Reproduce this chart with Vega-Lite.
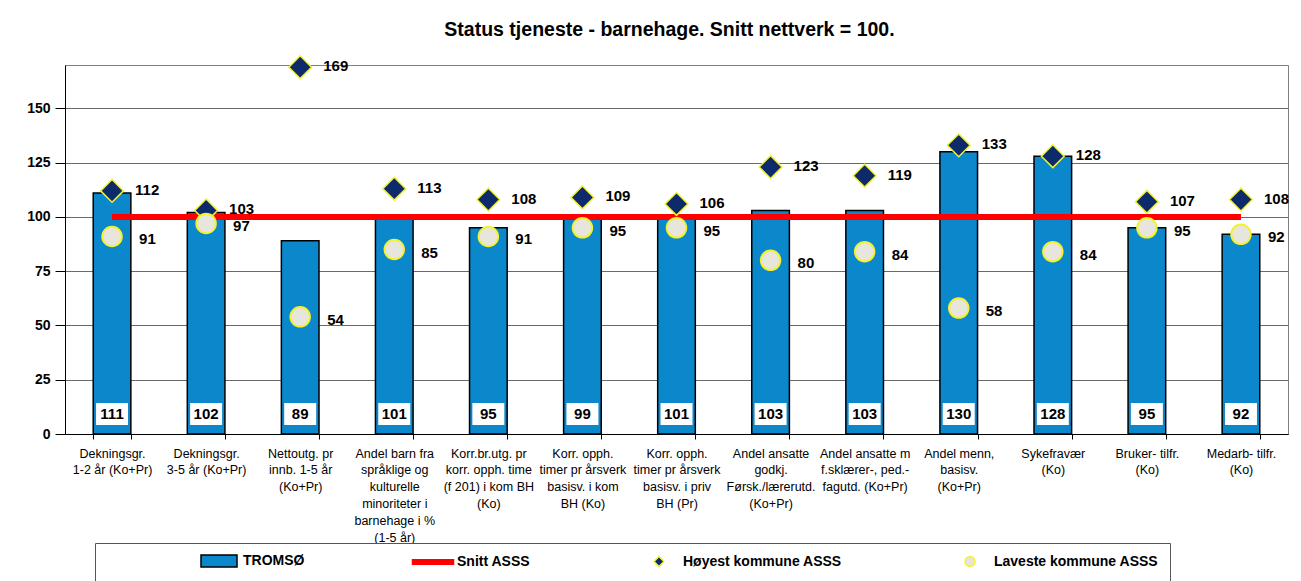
{
  "$schema": "https://vega.github.io/schema/vega-lite/v6.json",
  "width": 1223,
  "height": 369,
  "autosize": "none",
  "padding": {"left": 65, "top": 65, "right": 13, "bottom": 147},
  "background": "white",
  "title": {"text": "Status tjeneste - barnehage. Snitt nettverk = 100.", "anchor": "middle", "offset": 12, "fontSize": 19.5, "fontWeight": "bold", "font": "Liberation Sans", "color": "#000000", "dx": -7},
  "config": {
    "view": {"stroke": "#808080", "strokeWidth": 1},
    "font": "Liberation Sans"
  },
  "data": {"values": [
    {"cat": "Dekningsgr.|1-2 år (Ko+Pr)", "tromso": 111, "hoy": 112, "lav": 91, "snitt": 100},
    {"cat": "Dekningsgr.|3-5 år (Ko+Pr)", "tromso": 102, "hoy": 103, "lav": 97, "snitt": 100},
    {"cat": "Nettoutg. pr|innb. 1-5 år|(Ko+Pr)", "tromso": 89, "hoy": 169, "lav": 54, "snitt": 100},
    {"cat": "Andel barn fra|språklige og|kulturelle|minoriteter i|barnehage i %|(1-5 år)", "tromso": 101, "hoy": 113, "lav": 85, "snitt": 100},
    {"cat": "Korr.br.utg. pr|korr. opph. time|(f 201) i kom BH|(Ko)", "tromso": 95, "hoy": 108, "lav": 91, "snitt": 100},
    {"cat": "Korr. opph.|timer pr årsverk|basisv. i kom|BH (Ko)", "tromso": 99, "hoy": 109, "lav": 95, "snitt": 100},
    {"cat": "Korr. opph. |timer pr årsverk |basisv. i priv|BH (Pr)", "tromso": 101, "hoy": 106, "lav": 95, "snitt": 100},
    {"cat": "Andel ansatte|godkj.|Førsk./lærerutd.|(Ko+Pr)", "tromso": 103, "hoy": 123, "lav": 80, "snitt": 100},
    {"cat": "Andel ansatte m|f.sklærer-, ped.-|fagutd. (Ko+Pr)", "tromso": 103, "hoy": 119, "lav": 84, "snitt": 100},
    {"cat": "Andel menn,|basisv.|(Ko+Pr)", "tromso": 130, "hoy": 133, "lav": 58, "snitt": 100},
    {"cat": "Sykefravær|(Ko)", "tromso": 128, "hoy": 128, "lav": 84, "snitt": 100},
    {"cat": "Bruker- tilfr.|(Ko)", "tromso": 95, "hoy": 107, "lav": 95, "snitt": 100},
    {"cat": "Medarb- tilfr.|(Ko)", "tromso": 92, "hoy": 108, "lav": 92, "snitt": 100}
  ]},
  "encoding": {
    "x": {
      "field": "cat", "type": "nominal", "sort": null,
      "scale": {"paddingInner": 0.6, "paddingOuter": 0.3},
      "axis": {
        "title": null, "labelAngle": 0, "labelExpr": "isValid(datum.value) ? split(datum.value, '|') : ''",
        "labelFontSize": 12.5, "labelColor": "#000000", "labelFont": "Liberation Sans",
        "labelLineHeight": 16.8, "labelLimit": 200, "labelPadding": 8, "labelBaseline": "top",
        "tickBand": "extent", "tickSize": 5, "tickColor": "#000000", "domainColor": "#000000",
        "grid": false
      }
    }
  },
  "layer": [
    {
      "mark": {"type": "bar", "strokeWidth": 1.5},
      "encoding": {
        "y": {
          "field": "tromso", "type": "quantitative",
          "scale": {"domain": [0, 170], "nice": false},
          "axis": {
            "title": null, "values": [0, 25, 50, 75, 100, 125, 150],
            "labelFontSize": 14, "labelFontWeight": "bold", "labelColor": "#000000",
            "labelPadding": 5, "tickSize": 10, "tickColor": "#000000", "domainColor": "#000000",
            "grid": true, "gridColor": "#6a6a6a", "gridWidth": 1
          }
        },
        "fill": {
          "datum": "TROMSØ",
          "scale": {
            "domain": ["TROMSØ", "Snitt ASSS", "Høyest kommune ASSS", "Laveste kommune ASSS"],
            "range": ["#0B87CB", "#FF0000", "#0D2A6B", "#E8E6DC"]
          },
          "legend": {
            "title": null, "orient": "none", "legendX": 30, "legendY": 478,
            "direction": "horizontal", "columns": 4,
            "strokeColor": "#555555", "fillColor": "white", "padding": 11,
            "symbolSize": 100, "symbolOffset": 106, "labelOffset": 17,
            "columnPadding": 15, "symbolOpacity": 1, "symbolStrokeWidth": 1.5,
            "labelFontSize": 14, "labelFontWeight": "bold", "labelColor": "#000000",
            "labelFont": "Liberation Sans", "labelLimit": 300
          }
        },
        "stroke": {
          "datum": "TROMSØ",
          "scale": {
            "domain": ["TROMSØ", "Snitt ASSS", "Høyest kommune ASSS", "Laveste kommune ASSS"],
            "range": ["#000000", "#FF0000", "#F2F230", "#F2F230"]
          },
          "legend": {"title": null}
        }
      }
    },
    {
      "mark": {"type": "bar", "fill": "white", "width": {"band": 0.85}},
      "encoding": {"y": {"datum": 4.2}, "y2": {"datum": 14.3}}
    },
    {
      "mark": {"type": "text", "fontSize": 15, "fontWeight": "bold", "color": "#000000", "baseline": "middle"},
      "encoding": {"y": {"datum": 9.3}, "text": {"field": "tromso", "type": "quantitative"}}
    },
    {
      "mark": {"type": "line", "strokeWidth": 6},
      "encoding": {
        "y": {"field": "snitt", "type": "quantitative"},
        "stroke": {"datum": "Snitt ASSS", "legend": {"title": null}}
      }
    },
    {
      "mark": {"type": "point", "filled": true, "size": 520, "opacity": 1, "strokeWidth": 1.5},
      "encoding": {
        "y": {"field": "hoy", "type": "quantitative"},
        "fill": {"datum": "Høyest kommune ASSS", "legend": {"title": null}},
        "stroke": {"datum": "Høyest kommune ASSS", "legend": {"title": null}},
        "shape": {
          "datum": "Høyest kommune ASSS",
          "scale": {
            "domain": ["TROMSØ", "Snitt ASSS", "Høyest kommune ASSS", "Laveste kommune ASSS"],
            "range": ["M-3.6,-1.2H3.6V1.2H-3.6Z", "M-4.1,-0.45H4.1V0.45H-4.1Z", "diamond", "circle"]
          },
          "legend": {"title": null}
        }
      }
    },
    {
      "mark": {"type": "point", "filled": true, "size": 380, "opacity": 1, "strokeWidth": 2},
      "encoding": {
        "y": {"field": "lav", "type": "quantitative"},
        "fill": {"datum": "Laveste kommune ASSS", "legend": {"title": null}},
        "stroke": {"datum": "Laveste kommune ASSS", "legend": {"title": null}},
        "shape": {"datum": "Laveste kommune ASSS", "legend": {"title": null}}
      }
    },
    {
      "mark": {"type": "text", "align": "left", "baseline": "middle", "dx": 23, "dy": -1, "fontSize": 15, "fontWeight": "bold", "color": "#000000"},
      "encoding": {"y": {"field": "hoy", "type": "quantitative"}, "text": {"field": "hoy", "type": "quantitative"}}
    },
    {
      "mark": {"type": "text", "align": "left", "baseline": "middle", "dx": 27, "dy": 3, "fontSize": 15, "fontWeight": "bold", "color": "#000000"},
      "encoding": {"y": {"field": "lav", "type": "quantitative"}, "text": {"field": "lav", "type": "quantitative"}}
    }
  ]
}
